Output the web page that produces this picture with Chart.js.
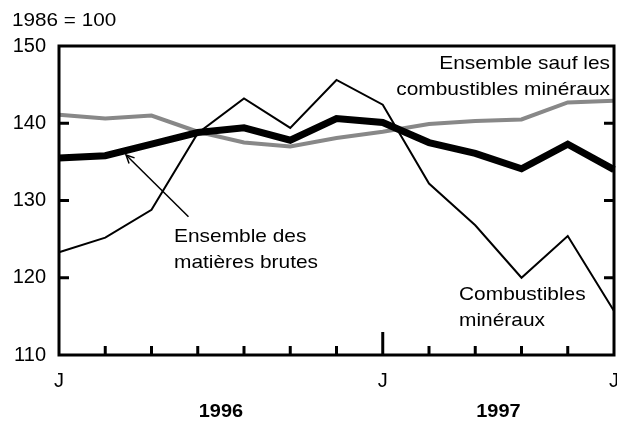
<!DOCTYPE html>
<html>
<head>
<meta charset="utf-8">
<script src="https://cdn.jsdelivr.net/npm/chart.js@4"></script>
<style>
  html, body { margin: 0; padding: 0; background: #fff; }
  #wrap { width: 617px; height: 421px; }
</style>
</head>
<body>
<div id="wrap"><canvas id="myChart" width="617" height="421"></canvas></div>
<script>
const months = ["J", "", "", "", "", "", "", "J", "", "", "", "", "J"];
const yTicks = [110, 120, 130, 140, 150];
const horsCombustibles = [141.1, 140.6, 141.0, 138.9, 137.5, 137.0, 138.1, 138.9, 139.9, 140.3, 140.5, 142.7, 142.9];
const matieresBrutes = [135.5, 135.8, 137.3, 138.8, 139.4, 137.8, 140.6, 140.1, 137.5, 136.1, 134.1, 137.3, 134.0];
const combustibles = [123.3, 125.2, 128.8, 138.7, 143.2, 139.4, 145.6, 142.4, 132.2, 126.8, 120.0, 125.4, 115.7];
const yearLabels = ["1996", "1997"];
const yearPos = [3.5, 9.5];

const font = '"Liberation Sans", Arial, sans-serif';
const ctx = document.getElementById("myChart");

// text in the original is a bit wider than Arial, so stretch it a little
function wideText(c, str, x, y, align, sx) {
  c.save();
  c.translate(x, y);
  c.scale(sx, 1);
  c.textAlign = align;
  c.fillText(str, 0, 0);
  c.restore();
}

const decorations = {
  id: "decorations",
  afterDatasetsDraw(chart) {
    const c = chart.ctx;
    const a = chart.chartArea;
    const x = chart.scales.x;
    const y = chart.scales.y;
    c.save();
    c.strokeStyle = "#000";
    c.lineWidth = 3;
    c.lineCap = "butt";
    // frame
    c.strokeRect(a.left, a.top, a.right - a.left, a.bottom - a.top);
    // y ticks, inside on both sides
    yTicks.slice(1, -1).forEach((v) => {
      const py = y.getPixelForValue(v);
      c.beginPath();
      c.moveTo(a.left, py);
      c.lineTo(a.left + 10, py);
      c.moveTo(a.right, py);
      c.lineTo(a.right - 10, py);
      c.stroke();
    });
    // x ticks
    for (let i = 1; i < months.length - 1; i++) {
      const px = x.getPixelForValue(i);
      c.beginPath();
      c.moveTo(px, a.bottom);
      c.lineTo(px, a.bottom - (months[i] ? 23 : 9));
      c.stroke();
    }
    // arrow
    const tipX = x.getPixelForValue(1.45), tipY = y.getPixelForValue(135.9);
    const tailX = x.getPixelForValue(2.8), tailY = y.getPixelForValue(127.9);
    c.lineWidth = 1.5;
    c.beginPath();
    c.moveTo(tailX, tailY);
    c.lineTo(tipX, tipY);
    c.stroke();
    const ang = Math.atan2(tipY - tailY, tipX - tailX);
    c.beginPath();
    c.moveTo(tipX - 9 * Math.cos(ang - 0.45), tipY - 9 * Math.sin(ang - 0.45));
    c.lineTo(tipX, tipY);
    c.lineTo(tipX - 9 * Math.cos(ang + 0.45), tipY - 9 * Math.sin(ang + 0.45));
    c.stroke();

    // texts
    c.fillStyle = "#000";
    c.font = "19px " + font;
    c.textBaseline = "alphabetic";
    wideText(c, "1986 = 100", 12, 26, "left", 1.09);
    wideText(c, "Ensemble sauf les", 610, 69, "right", 1.1);
    wideText(c, "combustibles minéraux", 610, 95, "right", 1.1);
    wideText(c, "Ensemble des", 174, 242, "left", 1.1);
    wideText(c, "matières brutes", 174, 268, "left", 1.1);
    wideText(c, "Combustibles", 459, 300, "left", 1.1);
    wideText(c, "minéraux", 459, 326, "left", 1.1);
    c.font = "bold 19px " + font;
    yearLabels.forEach((t, i) => {
      wideText(c, t, x.getPixelForValue(yearPos[i]), 417, "center", 1.05);
    });
    c.restore();
  },
};

const myChart = new Chart(ctx, {
  type: "line",
  data: {
    labels: months,
    datasets: [
      {
        label: "Combustibles minéraux",
        data: combustibles,
        borderColor: "#000",
        borderWidth: 2,
        order: 1,
      },
      {
        label: "Ensemble des matières brutes",
        data: matieresBrutes,
        borderColor: "#000",
        borderWidth: 7,
        order: 2,
      },
      {
        label: "Ensemble sauf les combustibles minéraux",
        data: horsCombustibles,
        borderColor: "#888",
        borderWidth: 4,
        order: 3,
      },
    ],
  },
  options: {
    responsive: false,
    animation: false,
    events: [],
    layout: { padding: { left: 0, top: 46, right: 3, bottom: 0 } },
    elements: {
      point: { radius: 0 },
      line: { tension: 0, borderJoinStyle: "miter", borderCapStyle: "butt" },
    },
    plugins: { legend: { display: false }, tooltip: { enabled: false } },
    scales: {
      x: {
        offset: false,
        grid: { display: false, drawTicks: false },
        border: { display: false },
        ticks: {
          autoSkip: false,
          maxRotation: 0,
          padding: 14,
          color: "#000",
          font: { family: font, size: 20 },
        },
        afterFit: (s) => {
          s.height = 66;
          s.paddingLeft = 0;
          s.paddingRight = 0;
        },
      },
      y: {
        min: 110,
        max: 150,
        grid: { display: false, drawTicks: false },
        border: { display: false },
        ticks: {
          stepSize: 10,
          padding: 13,
          color: "#000",
          font: { family: font, size: 20 },
        },
        afterFit: (s) => {
          s.width = 59;
        },
      },
    },
  },
  plugins: [decorations],
});
</script>
</body>
</html>
